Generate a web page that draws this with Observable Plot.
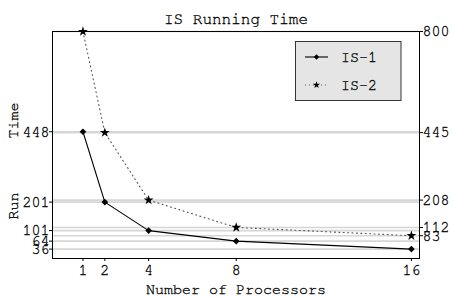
<!DOCTYPE html>
<html><head><meta charset="utf-8">
<script src="https://cdn.jsdelivr.net/npm/d3@7"></script>
<script src="https://cdn.jsdelivr.net/npm/@observablehq/plot@0.6"></script>
<style>
body{margin:0;background:#fff}
#chart svg text{stroke:#000;stroke-width:0.3px;fill:#000}
</style>
</head><body><div id="chart"></div>
<script>
const processors = [1, 2, 4, 8, 16];
const is1 = [448, 201, 101, 64, 36];
const is2 = [800, 445, 208, 112, 83];
const leftTicks = [36, 64, 101, 201, 448];
const rightTicks = [83, 112, 208, 445, 800];
const xTicks = [1, 2, 4, 8, 16];
const seriesNames = ["IS-1", "IS-2"];
const title = "IS Running Time";
const xLabel = "Number of Processors";
const yLabel = "Run      Time";

const rows1 = processors.map((p, i) => ({p, v: is1[i], s: seriesNames[0]}));
const rows2 = processors.map((p, i) => ({p, v: is2[i], s: seriesNames[1]}));
const font = "'Nimbus Mono PS', 'Nimbus Mono L', FreeMono, Courier, 'Courier New', 'Liberation Mono', monospace";

const chart = Plot.plot({
  width: 453, height: 299,
  marginTop: 31, marginBottom: 41, marginLeft: 52, marginRight: 34,
  style: {fontFamily: font, fontSize: "15px", background: "#fff", color: "#000"},
  x: {type: "linear", domain: [-0.39, 16.37]},
  y: {type: "linear", domain: [3, 800]},
  marks: [
    Plot.ruleY([...leftTicks, ...rightTicks], {stroke: "#d6d6d6", strokeWidth: 1.6}),
    Plot.line(rows1, {x: "p", y: "v", stroke: "#000", strokeWidth: 1.1}),
    Plot.line(rows2, {x: "p", y: "v", stroke: "#555", strokeWidth: 1.1, strokeDasharray: "1,3.4"}),
    Plot.dot(rows1, {x: "p", y: "v", symbol: "diamond2", r: 3, fill: "#000"}),
    Plot.dot(rows2, {x: "p", y: "v", symbol: "star", r: 3.1, fill: "#000"}),
    Plot.frame({stroke: "#000"}),
    Plot.axisX(xTicks, {tickSize: 3, tickPadding: 3, label: null}),
    Plot.axisY(leftTicks, {anchor: "left", tickSize: 3, tickPadding: 0, label: null}),
    Plot.axisY(rightTicks, {anchor: "right", tickSize: 3, tickPadding: 0, label: null}),
    Plot.text([title], {text: d => d, frameAnchor: "top", lineAnchor: "bottom", dy: -8, fontSize: 16}),
    Plot.text([xLabel], {text: d => d, frameAnchor: "bottom", lineAnchor: "bottom", dy: 35}),
    Plot.text([yLabel], {text: d => d, frameAnchor: "left", textAnchor: "middle", rotate: -90, lineAnchor: "bottom", dx: -35, dy: 16, className: "ylab"})
  ]
});
d3.select(chart).selectAll(".ylab text").style("white-space", "pre");

// legend
const svg = d3.select(chart);
const lg = svg.append("g").attr("font-family", font).attr("font-size", "15px").attr("text-anchor", "start");
lg.append("rect").attr("x", 295.5).attr("y", 41.5).attr("width", 105.5).attr("height", 59)
  .attr("fill", "#e5e5e5").attr("stroke", "#333");
const items = [
  {name: seriesNames[0], y: 57, dash: null, stroke: "#000", sym: d3.symbolDiamond2, size: 18},
  {name: seriesNames[1], y: 85, dash: "1,3", stroke: "#555", sym: d3.symbolStar, size: 16}
];
items.forEach(it => {
  lg.append("line").attr("x1", 305).attr("x2", 328).attr("y1", it.y).attr("y2", it.y)
    .attr("stroke", it.stroke).attr("stroke-width", 1.1).attr("stroke-dasharray", it.dash);
  lg.append("path").attr("d", d3.symbol(it.sym, it.size)()).attr("transform", `translate(316.5,${it.y})`).attr("fill", "#000");
  lg.append("text").attr("x", 341).attr("y", it.y + 4.5).attr("text-anchor", "start").text(it.name);
});
document.getElementById("chart").append(chart);
</script>
</body></html>
